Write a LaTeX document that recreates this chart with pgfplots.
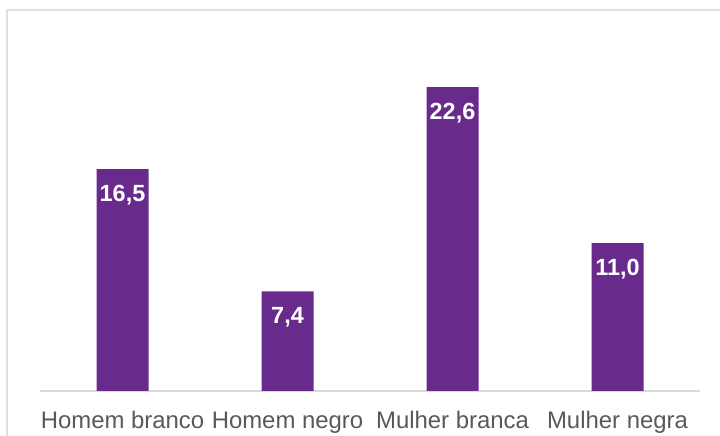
\documentclass[border=0pt]{standalone}
\usepackage{pgfplots}
\pgfplotsset{compat=1.18}
\usepackage{fontspec}
\setmainfont{Liberation Sans}
\definecolor{barpurple}{RGB}{104,43,140}
\definecolor{labgray}{RGB}{89,89,89}
\definecolor{linegray}{RGB}{217,217,217}
\definecolor{framegray}{RGB}{224,224,224}
\begin{document}
\begin{tikzpicture}[x=1bp,y=1bp]
\useasboundingbox (0,0) rectangle (720,436);
\draw[framegray, line width=2bp] (7,-5) -- (7,426) -- (725,426);
\begin{axis}[
  at={(40bp,45bp)}, anchor=south west,
  scale only axis, width=660bp, height=336.25bp,
  xmin=-0.5, xmax=3.5, ymin=0, ymax=25,
  axis x line=bottom, axis y line=none,
  x axis line style={draw=linegray, line width=1.5bp, -},
  xtick={0,1,2,3},
  xticklabels={Homem branco,Homem negro,Mulher branca,Mulher negra},
  major tick length=0pt,
  ytick=\empty,
  xticklabel style={font=\fontsize{24}{24}\selectfont, text=labgray, anchor=base, yshift=-38bp, inner sep=0pt},
  ybar, bar width=52bp,
  nodes near coords={\pgfmathprintnumber[fixed, fixed zerofill, precision=1, use comma, assume math mode=true]{\pgfplotspointmeta}},
  every node near coord/.append style={font=\fontsize{23.5}{23.5}\bfseries\selectfont, text=white, anchor=center, yshift=-26bp},
  clip=false,
]
\addplot[fill=barpurple, draw=none] coordinates {(0,16.5) (1,7.4) (2,22.6) (3,11.0)};
\end{axis}
\end{tikzpicture}
\end{document}
